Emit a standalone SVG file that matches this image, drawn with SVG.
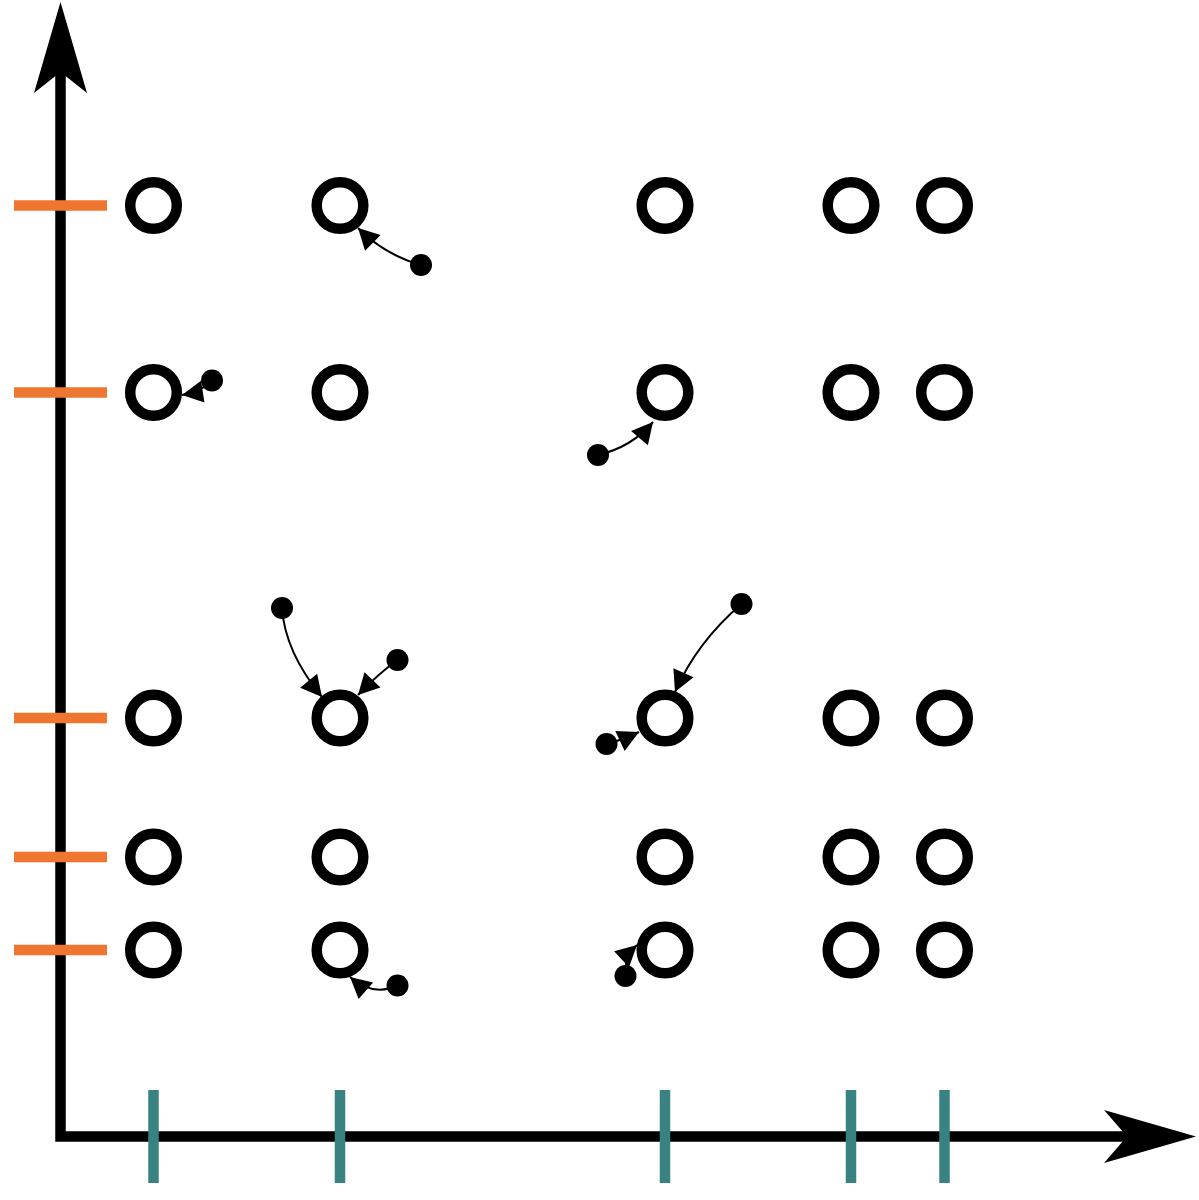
<svg xmlns="http://www.w3.org/2000/svg" width="1199" height="1200" viewBox="0 0 1199 1200">
<defs>
<style>
.node{fill:none;stroke:#000;stroke-width:10.5}
.dot{fill:#000}
.link{fill:none;stroke:#000;stroke-width:2}
.axis{fill:none;stroke:#000;stroke-width:10.5;stroke-linejoin:miter}
.ytick{stroke:#ee7631;stroke-width:10.5}
.xtick{stroke:#388381;stroke-width:10.5}
</style>
<marker id="ah" markerUnits="userSpaceOnUse" markerWidth="24" markerHeight="24" refX="21" refY="11" orient="auto" viewBox="0 0 24 24" overflow="visible">
<path d="M0,0 L21,11 L0,22 z" fill="#000"/>
</marker>
</defs>
<rect width="1199" height="1200" fill="#fff"/>
<g id="axes">
<path class="axis" d="M60.5,60 L60.5,1136.5 L1140,1136.5"/>
<path d="M60.5,2 L87,93 L60.5,72 L34,93 z" fill="#000"/>
<path d="M1196,1136.5 L1104,1110 L1127,1136.5 L1104,1163 z" fill="#000"/>
</g>
<g id="yticks">
<line class="ytick" x1="14" y1="205.5" x2="107" y2="205.5"/>
<line class="ytick" x1="14" y1="392.5" x2="107" y2="392.5"/>
<line class="ytick" x1="14" y1="718" x2="107" y2="718"/>
<line class="ytick" x1="14" y1="857" x2="107" y2="857"/>
<line class="ytick" x1="14" y1="950" x2="107" y2="950"/>
</g>
<g id="xticks">
<line class="xtick" x1="153.5" y1="1090" x2="153.5" y2="1183"/>
<line class="xtick" x1="340" y1="1090" x2="340" y2="1183"/>
<line class="xtick" x1="665" y1="1090" x2="665" y2="1183"/>
<line class="xtick" x1="851" y1="1090" x2="851" y2="1183"/>
<line class="xtick" x1="944.5" y1="1090" x2="944.5" y2="1183"/>
</g>
<g id="nodes">
<g id="n-1-1"><circle class="node" cx="153.5" cy="205.5" r="23.3"/></g>
<g id="n-1-2"><circle class="node" cx="340" cy="205.5" r="23.3"/></g>
<g id="n-1-3"><circle class="node" cx="665" cy="205.5" r="23.3"/></g>
<g id="n-1-4"><circle class="node" cx="851" cy="205.5" r="23.3"/></g>
<g id="n-1-5"><circle class="node" cx="944.5" cy="205.5" r="23.3"/></g>
<g id="n-2-1"><circle class="node" cx="153.5" cy="392.5" r="23.3"/></g>
<g id="n-2-2"><circle class="node" cx="340" cy="392.5" r="23.3"/></g>
<g id="n-2-3"><circle class="node" cx="665" cy="392.5" r="23.3"/></g>
<g id="n-2-4"><circle class="node" cx="851" cy="392.5" r="23.3"/></g>
<g id="n-2-5"><circle class="node" cx="944.5" cy="392.5" r="23.3"/></g>
<g id="n-3-1"><circle class="node" cx="153.5" cy="718" r="23.3"/></g>
<g id="n-3-2"><circle class="node" cx="340" cy="718" r="23.3"/></g>
<g id="n-3-3"><circle class="node" cx="665" cy="718" r="23.3"/></g>
<g id="n-3-4"><circle class="node" cx="851" cy="718" r="23.3"/></g>
<g id="n-3-5"><circle class="node" cx="944.5" cy="718" r="23.3"/></g>
<g id="n-4-1"><circle class="node" cx="153.5" cy="857" r="23.3"/></g>
<g id="n-4-2"><circle class="node" cx="340" cy="857" r="23.3"/></g>
<g id="n-4-3"><circle class="node" cx="665" cy="857" r="23.3"/></g>
<g id="n-4-4"><circle class="node" cx="851" cy="857" r="23.3"/></g>
<g id="n-4-5"><circle class="node" cx="944.5" cy="857" r="23.3"/></g>
<g id="n-5-1"><circle class="node" cx="153.5" cy="950" r="23.3"/></g>
<g id="n-5-2"><circle class="node" cx="340" cy="950" r="23.3"/></g>
<g id="n-5-3"><circle class="node" cx="665" cy="950" r="23.3"/></g>
<g id="n-5-4"><circle class="node" cx="851" cy="950" r="23.3"/></g>
<g id="n-5-5"><circle class="node" cx="944.5" cy="950" r="23.3"/></g>
</g>
<g id="points">
<g id="p1"><circle class="dot" cx="421" cy="265" r="11"/></g>
<g id="p2"><circle class="dot" cx="212" cy="380.5" r="11"/></g>
<g id="p3"><circle class="dot" cx="598" cy="455" r="11"/></g>
<g id="p4"><circle class="dot" cx="282" cy="608" r="11"/></g>
<g id="p5"><circle class="dot" cx="397.5" cy="660" r="11"/></g>
<g id="p6"><circle class="dot" cx="741.5" cy="604" r="11"/></g>
<g id="p7"><circle class="dot" cx="606.5" cy="744" r="11"/></g>
<g id="p8"><circle class="dot" cx="397.5" cy="985.5" r="11"/></g>
<g id="p9"><circle class="dot" cx="625.5" cy="976" r="11"/></g>
</g>
<g id="connectors">
<path class="link" marker-end="url(#ah)" d="M421,265 Q385,255 358,228"/>
<path class="link" marker-end="url(#ah)" d="M212,380.5 Q201,392 182,395"/>
<path class="link" marker-end="url(#ah)" d="M598,455 Q632,447 653,422"/>
<path class="link" marker-end="url(#ah)" d="M282,608 Q285,652 322,697"/>
<path class="link" marker-end="url(#ah)" d="M397.5,660 Q378,674 358,695"/>
<path class="link" marker-end="url(#ah)" d="M741.5,604 Q697,642 675,692"/>
<path class="link" marker-end="url(#ah)" d="M606.5,744 Q622,740 639,732"/>
<path class="link" marker-end="url(#ah)" d="M397.5,985.5 Q373,997 350,977"/>
<path class="link" marker-end="url(#ah)" d="M625.5,976 Q624,957 637,945"/>
</g>
</svg>
